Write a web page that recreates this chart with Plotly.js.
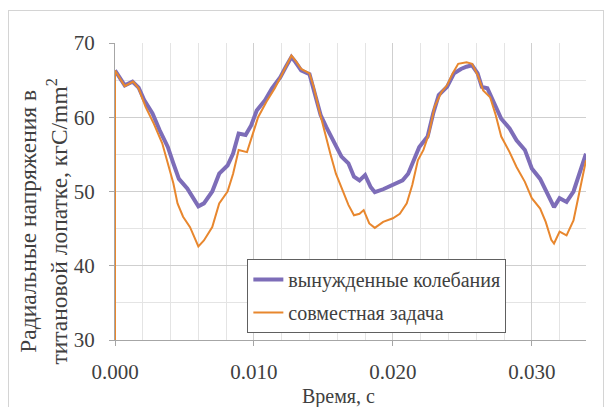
<!DOCTYPE html>
<html>
<head>
<meta charset="utf-8">
<script src="https://cdn.plot.ly/plotly-3.0.1.min.js"></script>
<style>
  html, body { margin: 0; padding: 0; background: #ffffff; }
  #wrap { position: relative; width: 609px; height: 407px; overflow: hidden; }
  #frame { position: absolute; left: 8px; top: 10px; width: 596px; height: 410px; border: 1px solid #d4d4d4; box-sizing: border-box; pointer-events: none; }
  #chart { position: absolute; left: 0; top: 0; width: 609px; height: 407px; }
</style>
</head>
<body>
<div id="wrap">
  <div id="chart"></div>
  <div id="frame"></div>
</div>
<script>
// Time, s
const timeForced = [0, 0.0007, 0.00126, 0.0017, 0.0021, 0.0027, 0.0032, 0.0038, 0.0042, 0.0046, 0.0052, 0.0056, 0.0060, 0.0064, 0.0070, 0.0075, 0.0081, 0.0085, 0.0089, 0.0094, 0.0098, 0.0102, 0.0108, 0.0113, 0.0119, 0.0123, 0.0127, 0.0130, 0.0134, 0.0140, 0.0144, 0.0148, 0.0152, 0.0158, 0.0163, 0.0168, 0.0172, 0.0176, 0.0180, 0.0184, 0.0187, 0.0193, 0.0200, 0.0207, 0.0211, 0.0215, 0.0219, 0.0225, 0.0229, 0.0233, 0.0239, 0.0244, 0.0249, 0.0253, 0.0257, 0.0261, 0.0264, 0.0268, 0.0272, 0.0278, 0.0284, 0.0289, 0.0295, 0.0300, 0.0306, 0.0312, 0.0316, 0.0320, 0.0325, 0.0330, 0.0334, 0.0339];
// Radial stress, forced oscillations
const stressForced = [66.3, 64.3, 64.8, 64.0, 62.3, 60.5, 58.3, 56.0, 53.8, 51.7, 50.4, 49.3, 48.0, 48.4, 50.0, 52.4, 53.5, 55.1, 57.8, 57.6, 58.9, 60.9, 62.3, 63.9, 65.4, 66.8, 68.1, 67.4, 66.3, 65.8, 63.2, 60.3, 58.7, 56.5, 54.7, 53.8, 52.0, 51.5, 52.2, 50.6, 49.9, 50.3, 50.9, 51.5, 52.4, 54.2, 56.0, 57.4, 60.5, 63.0, 64.1, 65.9, 66.5, 66.8, 67.0, 65.9, 64.1, 63.9, 62.3, 59.8, 58.5, 56.9, 55.6, 53.1, 51.7, 49.3, 47.9, 49.1, 48.6, 50.0, 52.4, 55.1];

const timeCoupled = [0, 0, 0.0007, 0.0013, 0.0017, 0.0022, 0.0028, 0.0034, 0.0038, 0.0042, 0.0045, 0.0049, 0.0054, 0.0060, 0.0064, 0.0070, 0.0075, 0.0081, 0.0085, 0.0089, 0.0095, 0.0099, 0.0103, 0.0109, 0.0115, 0.0120, 0.0124, 0.0127, 0.0130, 0.0134, 0.0140, 0.0143, 0.0147, 0.0151, 0.0155, 0.0159, 0.0163, 0.0168, 0.0172, 0.0176, 0.0179, 0.0183, 0.0187, 0.0193, 0.0200, 0.0205, 0.0210, 0.0214, 0.0218, 0.0222, 0.0226, 0.0230, 0.0235, 0.0239, 0.0243, 0.0247, 0.0253, 0.0257, 0.0261, 0.0265, 0.0270, 0.0274, 0.0278, 0.0284, 0.0289, 0.0295, 0.0300, 0.0306, 0.0310, 0.0314, 0.0316, 0.0320, 0.0325, 0.0330, 0.0334, 0.0339];
// Radial stress, coupled problem
const stressCoupled = [30, 66.3, 64.2, 64.8, 63.9, 61.4, 59.1, 56.5, 53.8, 51.1, 48.4, 46.6, 45.2, 42.6, 43.4, 45.2, 48.4, 50.0, 52.4, 55.6, 55.3, 57.8, 60.0, 62.1, 63.9, 65.7, 67.2, 68.3, 67.6, 66.5, 65.9, 64.1, 60.9, 57.8, 55.1, 52.4, 50.6, 48.2, 46.8, 47.0, 47.5, 45.7, 45.1, 45.9, 46.4, 47.0, 48.4, 50.9, 54.2, 55.6, 57.8, 61.4, 63.4, 64.3, 65.9, 67.2, 67.4, 67.2, 65.7, 63.6, 62.7, 60.3, 57.4, 55.3, 53.3, 51.3, 49.1, 47.7, 45.9, 43.5, 43.0, 44.6, 44.1, 46.1, 49.7, 54.2];

const seriesNames = ['вынужденные колебания', 'совместная задача'];
const xTickVals = [0, 0.01, 0.02, 0.03];
const xTickText = ['0.000', '0.010', '0.020', '0.030'];
const yTickVals = [30, 40, 50, 60, 70];
const xTitle = 'Время, с';
const yTitle = 'Радиальные напряжения в<br>титановой лопатке, кгС/mm<sup>2</sup>';

const serif = "'Liberation Serif'";
const txt = '#404040';

const traces = [
  {
    x: timeForced, y: stressForced, name: seriesNames[0], type: 'scatter', mode: 'lines',
    line: {color: '#7D6DB8', width: 4}, legendgroup: 'a'
  },
  {
    x: timeCoupled, y: stressCoupled, name: seriesNames[1], type: 'scatter', mode: 'lines',
    line: {color: '#E8872E', width: 2}, legendgroup: 'b'
  }
];

const layout = {
  width: 609, height: 407,
  margin: {l: 115, r: 23, t: 43, b: 67},
  paper_bgcolor: '#ffffff', plot_bgcolor: '#ffffff',
  font: {family: serif, color: txt, size: 21},
  showlegend: true,
  legend: {
    x: 0.281, y: 0.273, xanchor: 'left', yanchor: 'top',
    bgcolor: '#ffffff', bordercolor: '#606060', borderwidth: 1,
    font: {family: serif, size: 20, color: txt},
    traceorder: 'grouped', tracegroupgap: 4, itemwidth: 30
  },
  xaxis: {
    range: [0, 0.0339], tickvals: xTickVals, ticktext: xTickText,
    showgrid: true, gridcolor: '#cfcfcf', gridwidth: 1,
    minor: {dtick: 0.002, tick0: 0, showgrid: true, gridcolor: '#e4e4e4', gridwidth: 1},
    showline: true, linecolor: '#a6a6a6', linewidth: 1,
    ticks: 'outside', ticklen: 5, tickcolor: '#a6a6a6',
    ticklabelstandoff: 8,
    zeroline: false,
    tickfont: {family: serif, size: 21, color: txt}
  },
  yaxis: {
    range: [30, 70], tickvals: yTickVals,
    showgrid: true, gridcolor: '#cfcfcf', gridwidth: 1,
    minor: {dtick: 5, tick0: 30, showgrid: true, gridcolor: '#e4e4e4', gridwidth: 1},
    showline: true, linecolor: '#a6a6a6', linewidth: 1,
    ticks: 'outside', ticklen: 5, tickcolor: '#a6a6a6',
    ticklabelstandoff: 10,
    zeroline: false,
    tickfont: {family: serif, size: 21, color: txt}
  },
  annotations: [
    {
      text: xTitle, xref: 'paper', yref: 'paper', x: (338 - 115) / 471, y: -0.19,
      xanchor: 'center', yanchor: 'middle', showarrow: false,
      font: {family: serif, size: 20, color: txt}
    },
    {
      text: yTitle, xref: 'paper', yref: 'paper', x: -0.152, y: 0.40,
      xanchor: 'center', yanchor: 'middle', showarrow: false, textangle: -90,
      font: {family: serif, size: 23.5, color: txt}
    }
  ]
};

Plotly.newPlot('chart', traces, layout, {displayModeBar: false, staticPlot: true});
</script>
</body>
</html>
